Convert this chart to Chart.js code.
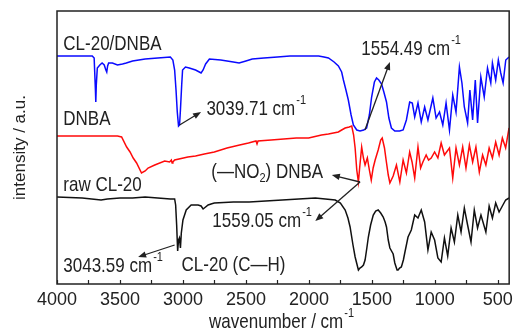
<!DOCTYPE html>
<html>
<head>
<meta charset="utf-8">
<script src="https://cdn.jsdelivr.net/npm/chart.js@4.4.0/dist/chart.umd.min.js"></script>
<style>
  html, body { margin: 0; padding: 0; background: #fff; }
</style>
</head>
<body>
<canvas id="ftirChart" width="518" height="334"></canvas>
<script>
// tick labels on the wavenumber axis
const xTickValues = [4000, 3500, 3000, 2500, 2000, 1500, 1000, 500];
const xMinorTicks = [3750, 3250, 2750, 2250, 1750, 1250, 750];

// spectra: [wavenumber, intensity (a.u., offset stacked)]
const cl20DnbaSpectrum = [
    [4000,228],[3720,228],[3705,226],[3695,194],[3692,182],[3688,199],[3680,216],[3660,219],[3642,221],[3625,219],
    [3612,214],[3605,212],[3598,218],[3590,221],[3560,221],[3520,219],[3480,220],[3450,221],[3400,223],[3300,225],
    [3200,226],[3100,227],[3080,224],[3066,214],[3055,194],[3045,172],[3035,158],[3027,159],[3020,174],[3010,199],
    [3003,214],[2980,217],[2950,216],[2900,214],[2870,212],[2856,211],[2840,214],[2820,220],[2790,225],[2700,224],
    [2600,222],[2554,221],[2500,223],[2450,225],[2357,226],[2250,227],[2150,228],[2081,228],[2000,228],[1923,228],
    [1880,227],[1845,226],[1800,222],[1766,218],[1740,212],[1726,204],[1706,194],[1687,184],[1665,169],[1647,159],
    [1620,154],[1594,153],[1565,154],[1542,156],[1520,169],[1502,187],[1480,202],[1463,206],[1445,204],[1423,200],
    [1405,192],[1384,182],[1365,166],[1345,156],[1318,153],[1280,153],[1252,154],[1226,164],[1200,182],[1179,181],
    [1160,167],[1134,181],[1108,162],[1081,177],[1055,164],[1016,186],[990,166],[963,172],[937,159],[911,181],
    [884,154],[858,189],[832,172],[805,217],[785,201],[766,177],[740,161],[722,194],[700,164],[679,204],
    [661,161],[635,207],[608,187],[582,216],[556,201],[543,221],[517,204],[496,224],[477,211],[458,201],
    [437,224],[411,227]
];

const dnbaSpectrum = [
    [4000,148],[3520,148],[3487,147],[3447,137],[3420,132],[3395,126],[3368,121],[3329,111],[3300,113],[3277,116],
    [3224,119],[3145,123],[3106,122],[3092,124],[3086,121],[3080,122],[3066,124],[2961,127],[2900,128],[2830,130],
    [2751,132],[2650,136],[2550,139],[2480,141],[2420,143],[2412,140],[2404,143],[2300,144],[2200,145],[2100,146],
    [2002,146],[1900,149],[1845,150],[1766,152],[1740,154],[1712,156],[1680,157],[1660,158],[1645,149],[1633,136],
    [1620,114],[1607,102],[1595,119],[1581,137],[1567,126],[1554,119],[1536,126],[1520,114],[1505,104],[1490,116],
    [1474,124],[1450,134],[1430,144],[1418,146],[1400,136],[1387,124],[1370,109],[1357,101],[1331,108],[1305,119],
    [1278,102],[1252,124],[1226,111],[1200,132],[1181,122],[1160,106],[1134,137],[1113,116],[1095,122],[1069,129],
    [1050,124],[1029,126],[1002,132],[976,126],[950,141],[924,129],[884,136],[858,106],[832,136],[805,119],
    [779,137],[753,116],[726,139],[700,122],[674,137],[647,112],[621,129],[595,119],[569,136],[543,126],
    [517,142],[490,129],[464,146],[438,136],[411,156]
];

const rawCl20Spectrum = [
    [4000,87],[3800,86],[3650,84],[3600,85],[3500,86],[3400,86],[3300,87],[3200,86],[3100,85],[3066,85],
    [3058,79],[3050,59],[3042,33],[3035,44],[3028,46],[3020,36],[3013,51],[3000,64],[2974,74],[2935,79],
    [2880,79],[2856,78],[2840,75],[2830,76],[2800,79],[2777,80],[2751,81],[2600,82],[2475,82],[2212,84],
    [1949,86],[1791,84],[1750,81],[1712,74],[1690,66],[1673,57],[1650,39],[1633,27],[1615,18],[1607,14],
    [1595,16],[1581,17],[1567,19],[1554,24],[1540,36],[1528,47],[1510,59],[1489,69],[1470,73],[1450,74],
    [1430,71],[1410,67],[1395,62],[1384,57],[1370,44],[1357,36],[1331,30],[1318,21],[1300,14],[1292,14],
    [1280,16],[1266,17],[1250,24],[1239,31],[1213,47],[1187,54],[1160,69],[1134,66],[1108,74],[1081,62],
    [1055,34],[1029,52],[1002,44],[976,26],[950,22],[924,46],[898,28],[871,56],[845,42],[818,69],
    [792,52],[766,76],[740,59],[713,42],[687,74],[661,56],[634,69],[595,52],[569,78],[543,66],
    [517,81],[490,72],[464,78],[438,84],[411,86]
];

const FONT = "'Liberation Sans', Arial, sans-serif";
const INK = '#222';
const TEXT_STRETCH = 1.15;

// text labels placed in data units: [wavenumber, intensity, parts]
// part: [text, kind] with kind '' | 'sup' | 'sub'
const notes = [
    [3950, 239.5, [['CL-20/DNBA', '']]],
    [3950, 164.5, [['DNBA', '']]],
    [3950, 98.5, [['raw CL-20', '']]],
    [3950, 17, [['3043.59 cm', ''], ['-1', 'sup']]],
    [3011, 18, [['CL-20 (C\u2014H)', '']]],
    [2814, 174, [['3039.71 cm', ''], ['-1', 'sup']]],
    [1584, 234, [['1554.49 cm', ''], ['-1', 'sup']]],
    [2775, 111, [['(\u2014NO', ''], ['2', 'sub'], [') DNBA', '']]],
    [2767, 62, [['1559.05 cm', ''], ['-1', 'sup']]]
];

// arrows: from [wn, value] to tip [wn, value]
const arrows = [
    [[3027, 159], [2856, 172]],
    [[1555, 154], [1357, 222]],
    [[3066, 39], [3356, 27]],
    [[1594, 102], [1818, 109]],
    [[1594, 102], [1949, 63]]
];

function toXY(pairs) {
    return pairs.map(p => ({ x: p[0], y: p[1] }));
}

// draws a run of text pieces, slightly stretched vertically like the original figure
function drawParts(ctx, x, y, parts, size) {
    size = size || 17;
    ctx.save();
    ctx.translate(0, y);
    ctx.scale(1, TEXT_STRETCH);
    ctx.textBaseline = 'middle';
    ctx.textAlign = 'left';
    let cx = x;
    parts.forEach(([t, kind]) => {
        if (kind === 'sup') {
            ctx.font = '11px ' + FONT;
            ctx.fillText(t, cx + 1, -8);
            cx += ctx.measureText(t).width + 1;
        } else if (kind === 'sub') {
            ctx.font = '11px ' + FONT;
            ctx.fillText(t, cx, 5);
            cx += ctx.measureText(t).width;
        } else {
            ctx.font = size + 'px ' + FONT;
            ctx.fillText(t, cx, 0);
            cx += ctx.measureText(t).width;
        }
    });
    ctx.restore();
}

function drawArrow(ctx, x1, y1, x2, y2) {
    const ang = Math.atan2(y2 - y1, x2 - x1);
    const len = 8, half = 3.2;
    ctx.beginPath();
    ctx.moveTo(x1, y1);
    ctx.lineTo(x2 - Math.cos(ang) * len * 0.8, y2 - Math.sin(ang) * len * 0.8);
    ctx.stroke();
    ctx.beginPath();
    ctx.moveTo(x2, y2);
    ctx.lineTo(x2 - Math.cos(ang) * len - Math.sin(ang) * half, y2 - Math.sin(ang) * len + Math.cos(ang) * half);
    ctx.lineTo(x2 - Math.cos(ang) * len + Math.sin(ang) * half, y2 - Math.sin(ang) * len - Math.cos(ang) * half);
    ctx.closePath();
    ctx.fill();
}

const decorPlugin = {
    id: 'ftirDecor',
    afterDraw(chart) {
        const { ctx, chartArea: a, scales: { x, y } } = chart;
        ctx.save();
        ctx.strokeStyle = INK;
        ctx.fillStyle = INK;

        // frame
        ctx.lineWidth = 1.5;
        ctx.strokeRect(a.left, a.top, a.right - a.left, a.bottom - a.top);

        // inward ticks on the bottom axis
        ctx.lineWidth = 1.2;
        xTickValues.concat(xMinorTicks).forEach(v => {
            const px = Math.round(x.getPixelForValue(v)) + 0.5;
            ctx.beginPath();
            ctx.moveTo(px, a.bottom);
            ctx.lineTo(px, a.bottom - 4);
            ctx.stroke();
        });

        // x axis title with superscript
        const titleX = (a.left + a.right) / 2 - 74;
        drawParts(ctx, titleX, 323, [['wavenumber / cm', ''], ['-1', 'sup']]);

        // labels
        notes.forEach(([wn, v, parts]) => {
            drawParts(ctx, x.getPixelForValue(wn), y.getPixelForValue(v), parts);
        });

        // arrows
        ctx.lineWidth = 1.3;
        arrows.forEach(([from, to]) => {
            drawArrow(ctx,
                x.getPixelForValue(from[0]), y.getPixelForValue(from[1]),
                x.getPixelForValue(to[0]), y.getPixelForValue(to[1]));
        });
        ctx.restore();
    }
};

const ctx = document.getElementById('ftirChart').getContext('2d');
const ftirChart = new Chart(ctx, {
    type: 'line',
    data: {
        datasets: [
            { label: 'CL-20/DNBA', data: toXY(cl20DnbaSpectrum), borderColor: '#0a0aff' },
            { label: 'DNBA', data: toXY(dnbaSpectrum), borderColor: '#ff0a0a' },
            { label: 'raw CL-20', data: toXY(rawCl20Spectrum), borderColor: '#111' }
        ]
    },
    options: {
        responsive: false,
        animation: false,
        devicePixelRatio: 1,
        elements: {
            line: { borderWidth: 1.5, tension: 0 },
            point: { radius: 0 }
        },
        layout: { padding: { top: 11, right: 6, left: 0, bottom: 0 } },
        plugins: {
            legend: { display: false },
            tooltip: { enabled: false }
        },
        scales: {
            x: {
                type: 'linear',
                reverse: true,
                min: 410,
                max: 4000,
                afterBuildTicks: scale => {
                    scale.ticks = xTickValues.map(v => ({ value: v }));
                },
                afterFit: scale => { scale.height = 50; },
                grid: { display: false, drawTicks: false },
                border: { display: false },
                ticks: {
                    color: INK,
                    padding: 5,
                    maxRotation: 0,
                    autoSkip: false,
                    callback: v => String(v),
                    font: { family: FONT, size: 18 }
                }
            },
            y: {
                min: 0,
                max: 273,
                afterFit: scale => { scale.width = 57; },
                grid: { display: false, drawTicks: false },
                border: { display: false },
                ticks: { display: false },
                title: {
                    display: true,
                    text: 'intensity / a.u.',
                    color: INK,
                    padding: { top: 10, bottom: 0 },
                    font: { family: FONT, size: 17 }
                }
            }
        }
    },
    plugins: [decorPlugin]
});
</script>
</body>
</html>
